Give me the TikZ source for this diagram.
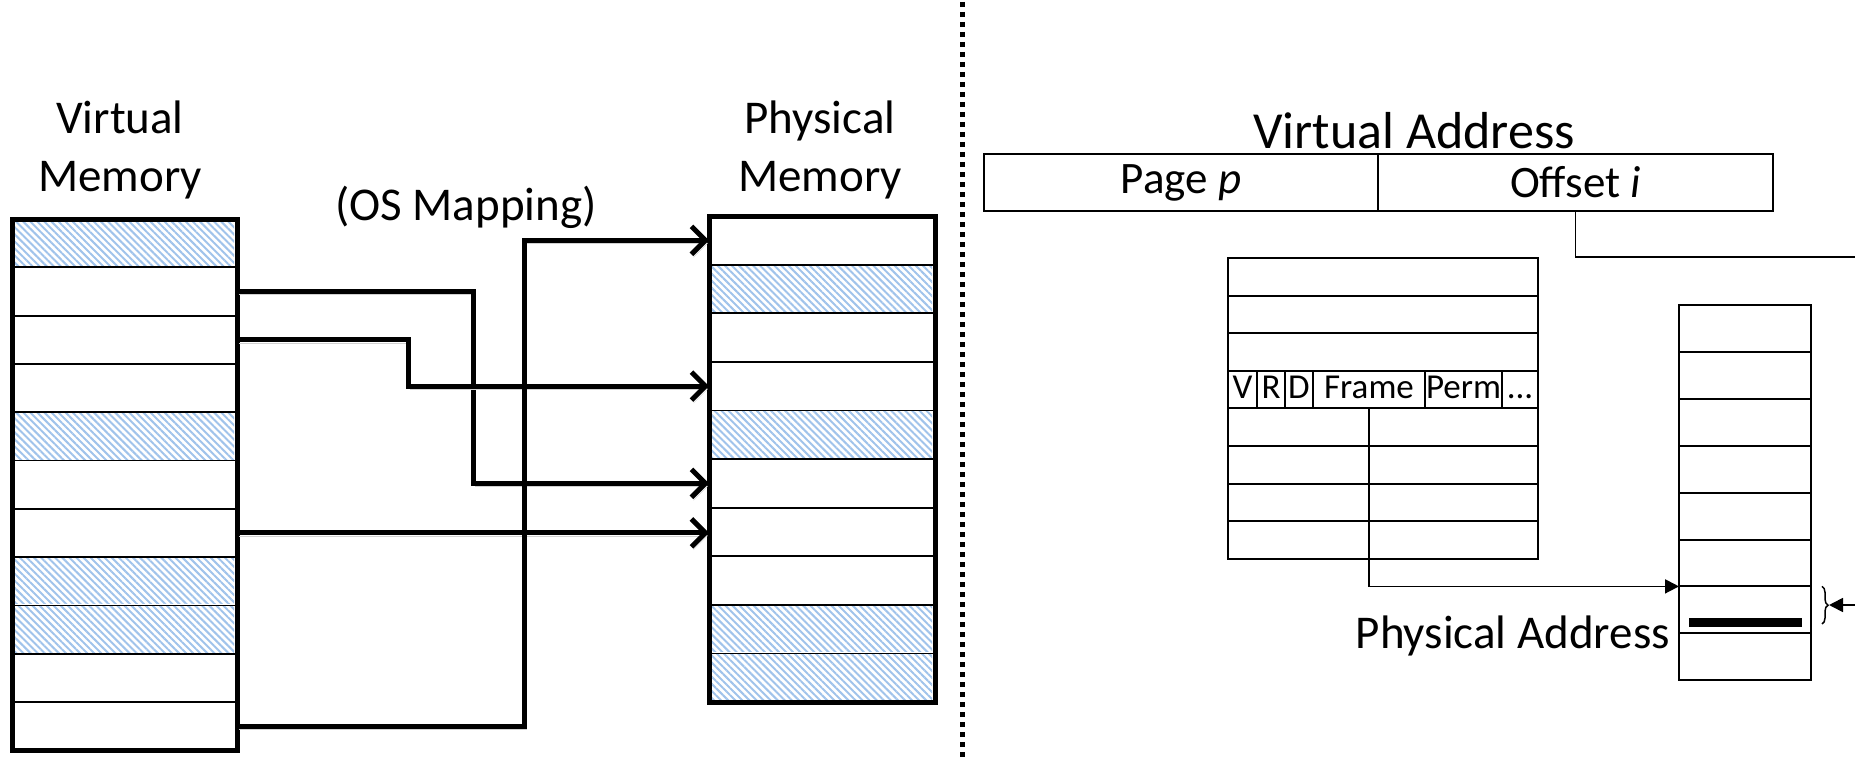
\documentclass[tikz,border=0pt]{standalone}
\usepackage{fontspec}
\setmainfont{Carlito}
\usetikzlibrary{arrows.meta,patterns.meta,decorations.pathreplacing}
\definecolor{hatchblue}{RGB}{160,195,235}
\tikzset{
  cellbox/.style={draw=black, line width=1.8pt, inner sep=0pt, outer sep=0pt, anchor=north west},
  vmrow/.style={cellbox, minimum width=225pt, minimum height=48.3pt},
  pmrow/.style={cellbox, minimum width=226pt, minimum height=48.6pt},
  hatched/.style={pattern={Lines[angle=-45,distance=5pt,line width=2pt]}, pattern color=hatchblue},
  outerbox/.style={draw=black, line width=5pt},
  maparrow/.style={line width=5pt, line join=miter, -{Straight Barb[length=14pt,width=28pt]},
    preaction={draw=black!18, transform canvas={shift={(2pt,-3pt)}}}},
  bigtext/.style={font=\fontsize{47}{58}\selectfont, inner sep=0pt, align=center},
  thinline/.style={line width=1.8pt},
  tiparrow/.style={thinline, -{Triangle[length=14pt,width=14pt]}},
  ptrow/.style={cellbox, line width=2pt, minimum width=310pt, minimum height=37.6pt},
  ptcell/.style={cellbox, line width=1.8pt, minimum height=37.6pt, text height=23pt, text depth=6pt, font=\fontsize{35}{38}\selectfont},
  frrow/.style={cellbox, line width=2pt, minimum width=132pt, minimum height=46.9pt},
  addrcell/.style={cellbox, line width=2pt, minimum height=57pt, font=\fontsize{45}{50}\selectfont},
}
\begin{document}
\begin{tikzpicture}[x=1pt,y=-1pt]
\useasboundingbox (0,0) rectangle (1855,757);
% virtual memory
\foreach \k in {1,...,11}{\node[vmrow] (v\k) at (12,{219+48.3*(\k-1)}) {};}
\foreach \k in {1,5,8,9}{\fill[hatched] ([xshift=3pt,yshift=-1.5pt]v\k.north west) rectangle ([xshift=-3pt,yshift=1.5pt]v\k.south east);}
\draw[outerbox] (v1.north west) rectangle (v11.south east);
% physical memory
\foreach \k in {1,...,10}{\node[pmrow] (p\k) at (709,{216+48.6*(\k-1)}) {};}
\foreach \k in {2,5,9,10}{\fill[hatched] ([xshift=3pt,yshift=-1.5pt]p\k.north west) rectangle ([xshift=-3pt,yshift=1.5pt]p\k.south east);}
\draw[outerbox] (p1.north west) rectangle (p10.south east);
% labels
\node[bigtext] (vmlab) at (120,150) {Virtual\\Memory};
\node[bigtext] (pmlab) at (820,150) {Physical\\Memory};
\node[bigtext] (oslab) at (466,207) {(OS Mapping)};
% mapping arrows
\coordinate (k1) at (473,0);
\coordinate (k2) at (408,0);
\coordinate (k4) at (524,0);
\draw[maparrow] (v2.east) -| (k1 |- p6.west) -- (p6.west);
\draw[maparrow] (v3.east) -| (k2 |- p4.west) -- (p4.west);
\draw[maparrow] (v7.east) -- (v7.east -| p7.west);
\draw[maparrow] (v11.east) -| (k4 |- p1.west) -- (p1.west);
% divider
\coordinate (dtop) at (962,2);
\coordinate (dbot) at (962,757);
\draw[line width=5pt, dash pattern=on 5pt off 5pt] (dtop) -- (dbot);
% virtual address
\node[addrcell, minimum width=394pt] (page) at (984,154) {Page \textit{p}};
\node[addrcell, minimum width=395pt] (off) at (1378,154) {Offset \textit{i}};
\node[font=\fontsize{52}{56}\selectfont, inner sep=0pt, anchor=base] (vaddr) at (1414,149) {Virtual Address};
\coordinate (oedge) at (1855,257);
\draw[thinline] (off.south) |- (oedge);
% page table
\foreach \k in {1,2,3,5,6,7,8}{\node[ptrow] (pt\k) at (1228,{258+37.6*(\k-1)}) {};}
\node[ptcell, minimum width=29pt] (cV) at (1228,370.8) {V};
\node[ptcell, minimum width=28pt] (cR) at (1257,370.8) {R};
\node[ptcell, minimum width=28pt] (cD) at (1285,370.8) {D};
\node[ptcell, minimum width=112pt] (cF) at (1313,370.8) {Frame};
\node[ptcell, minimum width=77pt] (cP) at (1425,370.8) {Perm};
\node[ptcell, minimum width=36pt] (cE) at (1502,370.8) {...};
% frames
\foreach \k in {1,...,8}{\node[frrow] (f\k) at (1679,{305+46.9*(\k-1)}) {};}
\node[fill=black, inner sep=0pt, outer sep=0pt, minimum width=113pt, minimum height=9pt, anchor=north west] (bar) at (1689,618) {};
\coordinate (fdiv) at (1369,408.4);
\draw[tiparrow] (fdiv) |- (f7.north west);
% brace and offset arrow
\coordinate (bra) at (1822,586.4);
\coordinate (brb) at (1822,624);
\draw[decorate, decoration={brace, amplitude=6pt}, line width=1.5pt] (bra) -- (brb);
\coordinate (bt) at (1829,605);
\coordinate (redge) at (1855,605);
\draw[tiparrow] (redge) -- (bt);
\node[font=\fontsize{47}{50}\selectfont, inner sep=0pt, anchor=east] (paddr) at (1670,636) {Physical Address};
\end{tikzpicture}
\end{document}
